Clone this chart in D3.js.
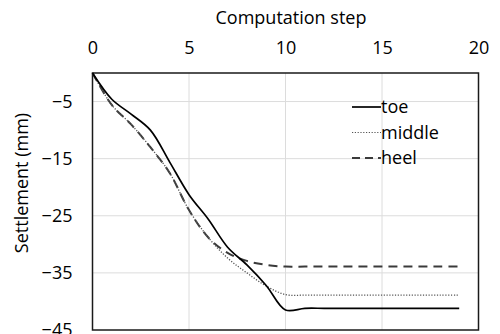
<!DOCTYPE html>
<html><head><meta charset="utf-8">
<script src="https://cdn.jsdelivr.net/npm/d3@7"></script>
<style>body{margin:0;background:#fff}svg{display:block}text{font-family:"Open Sans",sans-serif;fill:#000}</style>
</head><body><svg id="c" width="500" height="334"></svg>
<script>
const steps = [0,1,2,3,4,5,6,7,8,9,10,11,12,13,14,15,16,17,18,19];
const toe    = [0,-4.6,-7.2,-10.0,-15.6,-21.3,-25.6,-30.5,-33.6,-37.2,-41.5,-41.2,-41.2,-41.2,-41.2,-41.2,-41.2,-41.2,-41.2,-41.2];
const middle = [0,-5.6,-9.0,-13.0,-17.5,-24.0,-28.8,-32.4,-35.0,-37.3,-38.8,-38.9,-38.9,-38.9,-38.9,-38.9,-38.9,-38.9,-38.9,-38.9];
const heel   = [0,-5.6,-9.0,-13.0,-17.5,-24.0,-28.8,-31.5,-32.9,-33.6,-33.9,-33.9,-33.9,-33.9,-33.9,-33.9,-33.9,-33.9,-33.9,-33.9];
const xTicks = [0,5,10,15,20];
const yTicks = [-5,-15,-25,-35,-45];
const seriesNames = ["toe","middle","heel"];

const svg = d3.select("#c");
const L=92.5, R=478.5, T=73, B=330;
const x = d3.scaleLinear().domain([0,20]).range([L,R]);
const y = d3.scaleLinear().domain([0,-45]).range([T,B]);
const FS = "18px";

const g = svg.append("g");
g.selectAll("line.v").data(xTicks.slice(1,-1)).join("line")
  .attr("x1",d=>x(d)).attr("x2",d=>x(d)).attr("y1",T).attr("y2",B)
  .attr("stroke","#dcdcdc").attr("stroke-width",1);
g.selectAll("line.h").data(yTicks.slice(0,-1)).join("line")
  .attr("x1",L).attr("x2",R).attr("y1",d=>y(d)).attr("y2",d=>y(d))
  .attr("stroke","#dcdcdc").attr("stroke-width",1);

const xAxis = d3.axisTop(x).tickValues(xTicks).tickSize(0).tickPadding(19);
svg.append("g").attr("transform",`translate(0,${T})`).call(xAxis)
  .call(a=>a.select(".domain").remove())
  .selectAll("text").style("font-size",FS).style("font-family","Open Sans");
const yAxis = d3.axisLeft(y).tickValues(yTicks).tickSize(0).tickPadding(20);
svg.append("g").attr("transform",`translate(${L},0)`).call(yAxis)
  .call(a=>a.select(".domain").remove())
  .selectAll("text").style("font-size",FS).style("font-family","Open Sans");

svg.append("rect").attr("x",L).attr("y",T).attr("width",R-L).attr("height",B-T)
  .attr("fill","none").attr("stroke","#1a1a1a").attr("stroke-width",1.5);

svg.append("text").attr("x",291).attr("y",24).attr("text-anchor","middle")
  .style("font-size",FS).text("Computation step");
svg.append("text").attr("transform","translate(28,183) rotate(-90)").attr("text-anchor","middle")
  .style("font-size",FS).text("Settlement (mm)");

const line = d3.line().x((d,i)=>x(steps[i])).y(d=>y(d)).curve(d3.curveCatmullRom.alpha(0.5));
const styles = {
  toe:{stroke:"#000",w:1.7,dash:null},
  middle:{stroke:"#555",w:1.3,dash:"1.2,1.6"},
  heel:{stroke:"#3a3a3a",w:2,dash:"9,6"}
};
const data = {toe, middle, heel};
["heel","middle","toe"].forEach(k=>{
  svg.append("path").attr("d",line(data[k])).attr("fill","none")
    .attr("stroke",styles[k].stroke).attr("stroke-width",styles[k].w)
    .attr("stroke-dasharray",styles[k].dash);
});

const lg = svg.append("g");
seriesNames.forEach((k,i)=>{
  const yy = 107 + i*25.5;
  lg.append("line").attr("x1",352).attr("x2",381).attr("y1",yy).attr("y2",yy)
    .attr("stroke",styles[k].stroke).attr("stroke-width",k==="middle"?1.2:styles[k].w)
    .attr("stroke-dasharray",k==="heel"?"8,5":styles[k].dash);
  lg.append("text").attr("x",381).attr("y",yy+6).style("font-size",FS).text(k);
});
</script></body></html>
